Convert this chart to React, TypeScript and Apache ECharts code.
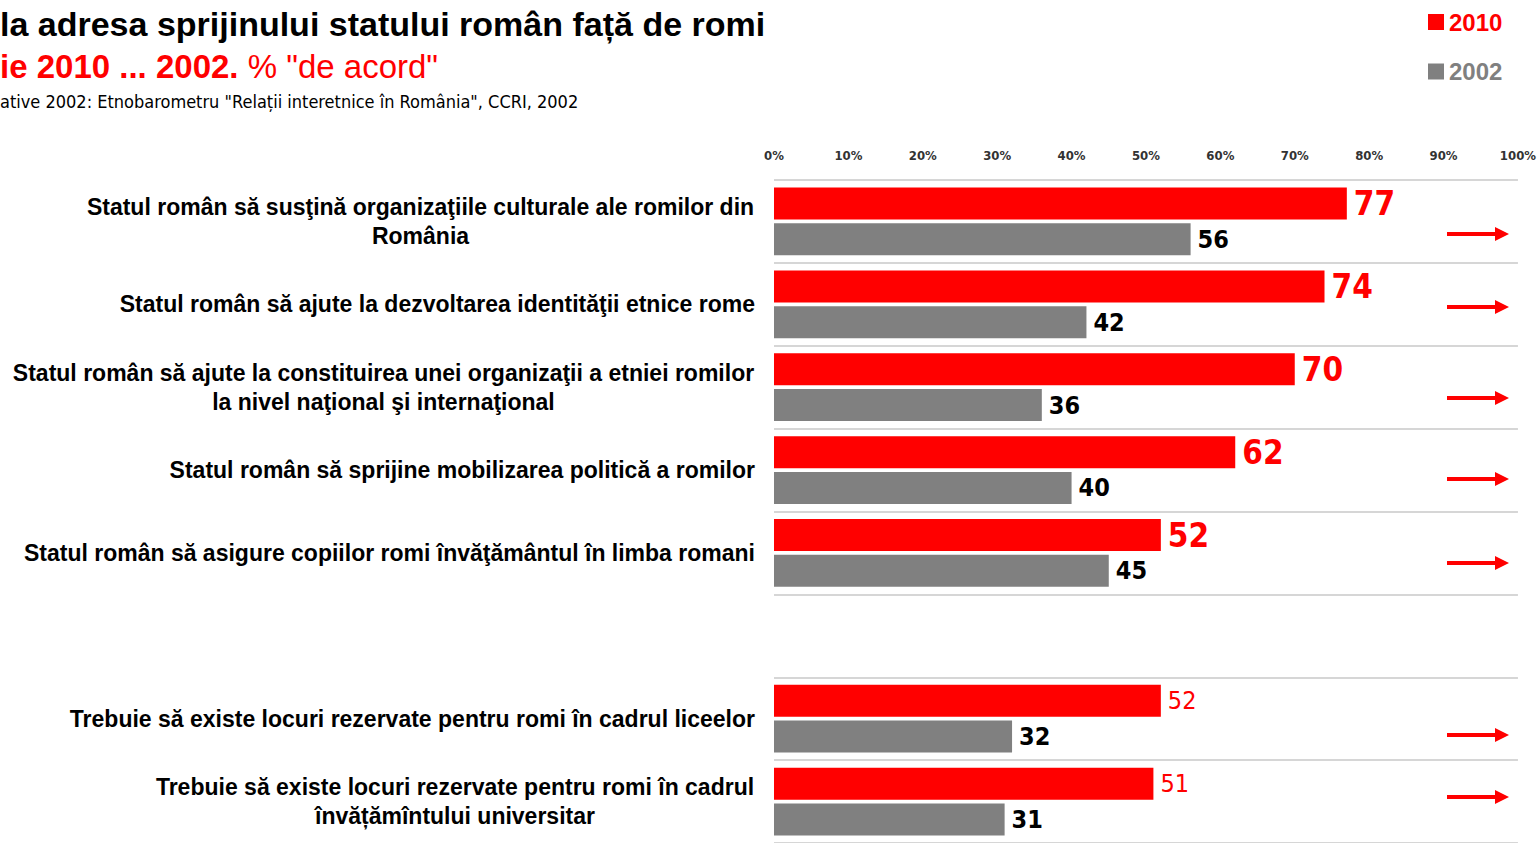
import React, { useEffect, useRef } from "react";
import * as echarts from "echarts";

const categories = [
  "Statul român să susţină organizaţiile culturale ale romilor din\nRomânia",
  "Statul român să ajute la dezvoltarea identităţii etnice rome",
  "Statul român să ajute la constituirea unei organizaţii a etniei romilor\nla nivel naţional şi internaţional",
  "Statul român să sprijine mobilizarea politică a romilor",
  "Statul român să asigure copiilor romi învăţământul în limba romani",
  "",
  "Trebuie să existe locuri rezervate pentru romi în cadrul liceelor",
  "Trebuie să existe locuri rezervate pentru romi în cadrul\nînvățămîntului universitar",
];
const values2010 = [77, 74, 70, 62, 52, null, 52, 51];
const values2002 = [56, 42, 36, 40, 45, null, 32, 31];
const xTicks = ["0%", "10%", "20%", "30%", "40%", "50%", "60%", "70%", "80%", "90%", "100%"];
const arrowYs = [234, 307, 398, 479, 563, 735, 797];

const SANS = '"Liberation Sans", Arial, sans-serif';
const NARROW = '"DejaVu Sans Condensed", "DejaVu Sans", sans-serif';
const LABEL_FONT_SIZE = 23;

function measure(text: string, font: string): number {
  const c = document.createElement("canvas");
  const ctx = c.getContext("2d");
  if (!ctx) return text.length * 10;
  ctx.font = font;
  return ctx.measureText(text).width;
}

export default function App() {
  const ref = useRef<HTMLDivElement>(null);
  useEffect(() => {
    if (!ref.current) return;
    const chart = echarts.init(ref.current, null, { renderer: "svg" });

    const rich: Record<string, any> = {};
    categories.forEach((c, i) => {
      if (c.includes("\n")) {
        const w = Math.max(
          ...c.split("\n").map((l) => measure(l, `bold ${LABEL_FONT_SIZE}px ${SANS}`))
        );
        rich["r" + i] = {
          width: Math.ceil(w) + 1,
          align: "center",
          fontSize: LABEL_FONT_SIZE,
          fontWeight: "bold",
          fontFamily: SANS,
          color: "#000",
          lineHeight: 29,
        };
      }
    });

    const arrows: any[] = [];
    arrowYs.forEach((y) => {
      arrows.push({
        type: "rect",
        shape: { x: 1447, y: y - 2, width: 50, height: 4 },
        style: { fill: "#ff0000" },
      });
      arrows.push({
        type: "polygon",
        shape: { points: [[1495, y - 7], [1509, y], [1495, y + 7]] },
        style: { fill: "#ff0000" },
      });
    });

    chart.setOption({
      animation: false,
      backgroundColor: "#ffffff",
      legend: {
        orient: "vertical",
        left: 1423,
        top: 5,
        itemWidth: 16,
        itemHeight: 16,
        itemGap: 25.5,
        icon: "rect",
        textStyle: { fontSize: 24, fontWeight: "bold", fontFamily: SANS },
        data: [
          { name: "2010", textStyle: { color: "#ff0000" } },
          { name: "2002", textStyle: { color: "#808080" } },
        ],
      },
      grid: { left: 774, top: 180, width: 744, height: 672, containLabel: false },
      xAxis: {
        type: "value",
        position: "top",
        min: 0,
        max: 100,
        interval: 10,
        axisLine: { show: false },
        axisTick: { show: false },
        splitLine: { show: false },
        axisLabel: {
          margin: 18,
          fontSize: 13,
          fontFamily: NARROW,
          fontWeight: "bold",
          color: "#333",
          formatter: (v: number) => xTicks[Math.round(v / 10)],
        },
      },
      yAxis: {
        type: "category",
        inverse: true,
        data: categories,
        axisLine: { show: false },
        axisTick: { show: false },
        splitLine: { show: true, interval: 0, lineStyle: { color: "#c8c8c8", width: 1.5 } },
        axisLabel: {
          interval: 0,
          margin: 19,
          fontSize: LABEL_FONT_SIZE,
          fontWeight: "bold",
          fontFamily: SANS,
          color: "#000",
          lineHeight: 29,
          rich,
          formatter: (v: string, i: number) =>
            v.includes("\n")
              ? v
                  .split("\n")
                  .map((l) => `{r${i}|${l}}`)
                  .join("\n")
              : v,
        },
      },
      series: [
        {
          name: "2010",
          type: "bar",
          barWidth: 32,
          barGap: "12%",
          itemStyle: { color: "#ff0000" },
          data: values2010.map((v, i) => ({
            value: v,
            label:
              i >= 6
                ? { fontSize: 25, fontWeight: "normal" }
                : { fontSize: 33, fontWeight: "bold" },
          })),
          label: {
            show: true,
            position: "right",
            distance: 7,
            color: "#ff0000",
            fontFamily: NARROW,
          },
        },
        {
          name: "2002",
          type: "bar",
          barWidth: 32,
          barGap: "12%",
          itemStyle: { color: "#808080" },
          data: values2002,
          label: {
            show: true,
            position: "right",
            distance: 7,
            color: "#000",
            fontSize: 25,
            fontWeight: "bold",
            fontFamily: NARROW,
          },
        },
      ],
      graphic: [
        {
          type: "text",
          left: 0,
          top: 7,
          style: {
            text: "la adresa sprijinului statului român față de romi",
            font: `bold 34px ${SANS}`,
            fill: "#000",
          },
        },
        {
          type: "text",
          left: 0,
          top: 50,
          style: {
            text: '{b|ie 2010 ... 2002.}{n| % "de acord"}',
            rich: {
              b: { fontSize: 33, fontWeight: "bold", fontFamily: SANS, fill: "#ff0000", color: "#ff0000" },
              n: { fontSize: 33, fontWeight: "normal", fontFamily: SANS, fill: "#ff0000", color: "#ff0000" },
            },
          },
        },
        {
          type: "text",
          left: 0,
          top: 92,
          style: {
            text: 'ative 2002: Etnobarometru "Relații interetnice în România", CCRI, 2002',
            font: `18px ${NARROW}`,
            fill: "#000",
          },
        },
        ...arrows,
      ],
    });
    return () => chart.dispose();
  }, []);
  return (
    <div
      ref={ref}
      style={{ position: "fixed", left: 0, top: 0, width: 1539, height: 843, background: "#fff" }}
    />
  );
}
